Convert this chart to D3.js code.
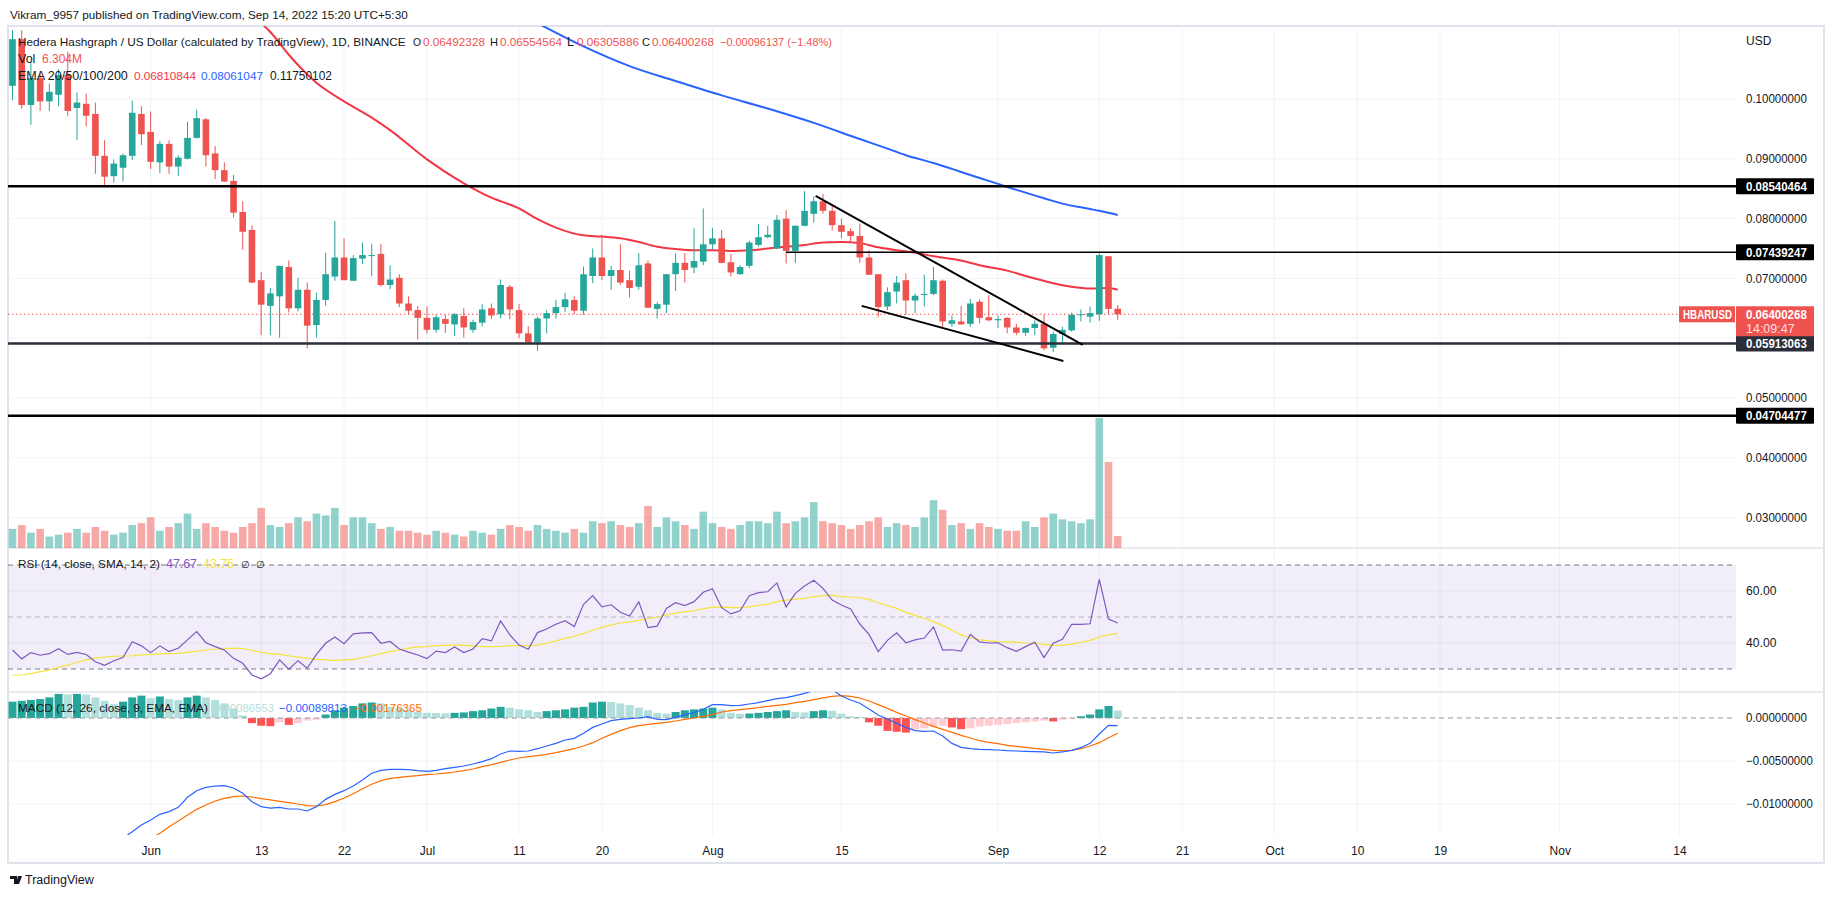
<!DOCTYPE html>
<html><head><meta charset="utf-8">
<script src="https://cdn.jsdelivr.net/npm/d3@7"></script>
<style>
html,body{margin:0;padding:0;background:#fff;}
svg{display:block;font-family:"Liberation Sans",Arial,sans-serif;}
</style></head><body>
<svg id="c" width="1834" height="899"></svg>
<script>
// ---------------- DATA ----------------
const startDate = "2022-05-17"; // first daily candle
const opens = [0.1022,0.1100,0.0990,0.1035,0.0996,0.1007,0.1040,0.0985,0.0992,0.0975,
0.0905,0.0871,0.0885,0.0905,0.0975,0.0945,0.0894,0.0925,0.0887,0.0900,
0.0935,0.0966,0.0909,0.0881,0.0863,0.0811,0.0781,0.0697,0.0654,0.0670,
0.0719,0.0650,0.0681,0.0622,0.0664,0.0703,0.0735,0.0696,0.0733,0.0738,
0.0741,0.0689,0.0701,0.0658,0.0647,0.0634,0.0614,0.0632,0.0623,0.0637,
0.0614,0.0626,0.0650,0.0640,0.0686,0.0647,0.0608,0.0593,0.0633,0.0642,
0.0652,0.0664,0.0646,0.0704,0.0735,0.0704,0.0714,0.0697,0.0686,0.0725,
0.0649,0.0656,0.0707,0.0726,0.0718,0.0728,0.0757,0.0767,0.0727,0.0707,
0.0721,0.0756,0.0769,0.0750,0.0800,0.0746,0.0788,0.0808,0.0829,0.0813,
0.0789,0.0779,0.0771,0.0735,0.0707,0.0653,0.0678,0.0697,0.0663,0.0673,
0.0674,0.0696,0.0624,0.0628,0.0624,0.0661,0.0635,0.0630,0.0634,0.0618,
0.0609,0.0617,0.0624,0.0584,0.0607,0.0613,0.0639,0.0636,0.0640,0.0737,
0.06492328];
const highs = [0.1115,0.1115,0.1060,0.1046,0.1026,0.1050,0.1079,0.1011,0.1009,0.0994,
0.0931,0.0899,0.0909,0.0997,0.0988,0.0979,0.0930,0.0931,0.0906,0.0962,
0.0982,0.0968,0.0921,0.0894,0.0873,0.0829,0.0789,0.0711,0.0684,0.0721,
0.0730,0.0701,0.0693,0.0676,0.0743,0.0796,0.0767,0.0739,0.0760,0.0758,
0.0758,0.0722,0.0707,0.0670,0.0654,0.0653,0.0639,0.0639,0.0642,0.0650,
0.0631,0.0657,0.0658,0.0698,0.0689,0.0657,0.0620,0.0636,0.0647,0.0664,
0.0676,0.0670,0.0720,0.0750,0.0773,0.0721,0.0757,0.0713,0.0742,0.0730,
0.0661,0.0707,0.0742,0.0742,0.0784,0.0817,0.0784,0.0781,0.0741,0.0722,
0.0763,0.0791,0.0788,0.0806,0.0814,0.0789,0.0846,0.0837,0.0841,0.0824,
0.0800,0.0784,0.0792,0.0747,0.0707,0.0685,0.0704,0.0709,0.0675,0.0706,
0.0719,0.0698,0.0638,0.0654,0.0666,0.0665,0.0672,0.0638,0.0635,0.0624,
0.0618,0.0630,0.0639,0.0611,0.0619,0.0643,0.0648,0.0653,0.0745,0.0737,
0.06554564];
const lows = [0.0998,0.0984,0.0957,0.0980,0.0980,0.0988,0.0972,0.0931,0.0954,0.0875,
0.0855,0.0860,0.0862,0.0898,0.0923,0.0883,0.0876,0.0875,0.0871,0.0899,
0.0934,0.0887,0.0866,0.0861,0.0802,0.0748,0.0692,0.0605,0.0605,0.0601,
0.0643,0.0645,0.0583,0.0601,0.0654,0.0696,0.0697,0.0696,0.0724,0.0704,
0.0686,0.0682,0.0652,0.0640,0.0598,0.0608,0.0609,0.0609,0.0604,0.0601,
0.0609,0.0620,0.0632,0.0633,0.0632,0.0600,0.0593,0.0579,0.0608,0.0633,
0.0644,0.0640,0.0639,0.0692,0.0697,0.0681,0.0689,0.0668,0.0681,0.0650,
0.0633,0.0642,0.0679,0.0693,0.0709,0.0722,0.0748,0.0725,0.0703,0.0706,
0.0717,0.0753,0.0767,0.0749,0.0725,0.0726,0.0787,0.0793,0.0808,0.0780,
0.0767,0.0760,0.0726,0.0706,0.0635,0.0647,0.0658,0.0639,0.0642,0.0653,
0.0672,0.0619,0.0619,0.0623,0.0619,0.0625,0.0628,0.0617,0.0608,0.0605,
0.0604,0.0605,0.0580,0.0577,0.0593,0.0611,0.0628,0.0626,0.0629,0.0640,
0.06305886];
const closes = [0.1100,0.0990,0.1035,0.0996,0.1012,0.1040,0.0980,0.0994,0.0972,0.0905,
0.0870,0.0892,0.0906,0.0977,0.0941,0.0895,0.0925,0.0887,0.0902,0.0935,
0.0968,0.0906,0.0881,0.0862,0.0810,0.0778,0.0693,0.0656,0.0675,0.0721,
0.0650,0.0681,0.0621,0.0664,0.0707,0.0735,0.0697,0.0734,0.0739,0.0739,
0.0689,0.0698,0.0658,0.0646,0.0634,0.0614,0.0635,0.0624,0.0640,0.0618,
0.0627,0.0648,0.0638,0.0689,0.0648,0.0608,0.0593,0.0633,0.0642,0.0652,
0.0665,0.0646,0.0707,0.0735,0.0704,0.0714,0.0693,0.0684,0.0722,0.0651,
0.0657,0.0707,0.0726,0.0714,0.0729,0.0757,0.0767,0.0726,0.0710,0.0719,
0.0760,0.0769,0.0773,0.0798,0.0746,0.0788,0.0813,0.0829,0.0813,0.0789,
0.0778,0.0771,0.0735,0.0706,0.0652,0.0677,0.0693,0.0663,0.0671,0.0674,
0.0697,0.0628,0.0630,0.0623,0.0658,0.0634,0.0630,0.0632,0.0618,0.0609,
0.0617,0.0624,0.0583,0.0607,0.0614,0.0639,0.0640,0.0642,0.0739,0.0649,
0.06400268];
const volumesM = [10,12,8,10,6,7,8,10,8,11,
9,7,8,12,13,16,9,11,13,18,
10,13,11,9,8,11,13,21,12,11,
13,16,14,18,17,21,12,16,16,13,
10,11,9,9,8,7,9,8,7,6,
9,8,7,10,12,11,9,12,10,9,
8,10,8,14,13,14,12,11,13,22,
11,16,14,12,10,19,13,11,10,12,
14,14,13,19,13,14,16,24,14,13,
12,10,12,14,16,11,13,12,11,16,
25,20,12,13,10,13,11,10,9,9,
14,11,16,18,15,14,13,15,68,45,
6.304];
// EMA lines: [candle index, value]
const emaRed = [[26,0.1140],[28,0.1112],[30,0.1074],[33,0.1027],[36,0.0996],[39,0.0969],[41,0.0948],[45,0.0899],[49,0.0859],[52,0.0835],[55,0.0817],[57,0.0799],[59,0.0785],[62,0.0772],[64,0.0770],[66,0.0767],[68,0.0761],[70,0.0753],[72,0.0749],[74,0.0747],[76,0.0747],[78,0.0746],[80,0.0747],[82,0.0750],[84,0.0753],[86,0.0756],[88,0.0760],[90,0.0761],[92,0.0759],[94,0.0752],[96,0.0747],[98,0.0743],[100,0.0737],[103,0.0730],[105,0.0722],[108,0.0713],[110,0.0704],[113,0.0692],[115,0.0686],[117,0.0683],[119,0.0684],[120,0.06810844]];
const emaBlue = [[56,0.1135],[62,0.1088],[67,0.1055],[72,0.1030],[77,0.1006],[82,0.0984],[87,0.0960],[92,0.0933],[95,0.0917],[97,0.0906],[100,0.0893],[103,0.0878],[105,0.0868],[107,0.0858],[109,0.0848],[112,0.0834],[114,0.0825],[117,0.0816],[118,0.0813],[120,0.08061047]];
const rsi = [37.3,33.9,36.3,35.3,35.9,37.8,35.6,36.4,35.6,32.8,
31.4,33.2,34.4,40.5,38.9,36.3,38.9,36.7,38.0,41.2,
44.4,40.1,38.6,37.3,34.1,32.2,27.7,26.2,28.2,33.5,
29.9,33.2,30.3,35.6,39.9,42.3,39.7,43.5,43.9,44.0,
39.9,40.6,37.7,36.5,35.4,34.0,36.9,36.3,38.5,36.3,
37.7,41.7,40.8,48.5,43.1,39.2,37.6,44.0,45.4,47.2,
48.6,46.3,54.9,58.2,53.9,54.7,51.8,50.4,55.8,45.9,
46.5,53.3,55.5,54.4,55.9,59.5,60.9,53.6,51.2,52.4,
58.2,59.4,59.7,63.1,53.9,59.1,61.9,64.1,61.0,56.5,
54.6,53.1,47.3,43.3,36.7,41.0,43.9,40.1,41.2,41.9,
46.2,37.3,37.4,36.9,43.3,40.4,40.0,40.1,38.2,36.8,
38.6,40.3,34.4,39.9,41.4,47.2,47.2,47.4,64.5,49.2,
47.67];
const rsiMa = [27.6,27.7,28.2,29.0,29.6,30.6,31.5,32.6,33.5,34.2,
34.6,34.9,35.0,35.1,35.4,35.6,35.8,35.9,36.0,36.4,
36.9,37.3,37.6,37.8,38.0,37.8,37.2,36.4,35.9,35.6,
35.1,34.6,34.2,33.7,33.5,33.3,33.5,33.7,34.4,35.1,
35.9,36.7,37.3,38.0,38.4,38.6,39.0,39.2,39.2,39.1,
38.9,38.6,38.6,38.7,39.0,39.0,39.0,39.2,39.9,40.8,
41.8,42.6,43.6,44.9,46.0,46.9,47.7,48.1,48.7,49.4,
50.0,50.8,51.5,52.1,52.4,53.2,53.7,53.9,53.6,53.6,
53.9,54.5,54.9,55.9,56.5,56.9,57.2,57.8,58.2,58.3,
57.8,57.7,57.4,56.8,55.5,54.4,53.3,51.8,50.6,49.5,
48.2,46.7,44.9,43.1,42.1,41.2,40.8,40.5,40.4,40.3,
40.0,39.8,39.5,39.2,39.1,39.6,40.3,41.0,42.3,43.1,
43.75];
const macdLine = [null,null,null,null,null,null,null,null,null,null,
null,null,-0.0140,-0.01322,-0.01244,-0.01186,-0.01120,-0.01089,-0.01039,-0.00922,
-0.00845,-0.00806,-0.00791,-0.00787,-0.00814,-0.00876,-0.00973,-0.01031,-0.01047,-0.01039,
-0.01058,-0.01058,-0.01081,-0.01031,-0.00946,-0.00888,-0.00845,-0.00791,-0.00721,-0.00643,
-0.00609,-0.00597,-0.00597,-0.00601,-0.00612,-0.00620,-0.00609,-0.00589,-0.00574,-0.00558,
-0.00535,-0.00508,-0.00473,-0.00419,-0.00384,-0.00388,-0.00384,-0.00357,-0.00326,-0.00295,
-0.00256,-0.00237,-0.00178,-0.00109,-0.00070,-0.00031,-0.00016,-0.00008,0.00000,0.00016,
-0.00016,-0.00019,0.00008,0.00039,0.00062,0.00101,0.00155,0.00155,0.00143,0.00147,
0.00163,0.00178,0.00202,0.00225,0.00236,0.00260,0.00287,0.00318,0.00340,0.00330,
0.00256,0.00209,0.00171,0.00105,0.00035,-0.00012,-0.00062,-0.00109,-0.00147,-0.00155,
-0.00151,-0.00209,-0.00295,-0.00341,-0.00357,-0.00364,-0.00368,-0.00372,-0.00380,-0.00384,
-0.00388,-0.00391,-0.00395,-0.00407,-0.00395,-0.00376,-0.00345,-0.00295,-0.00186,-0.00085,
-0.00089813];
const signalLine = [null,null,null,null,null,null,null,null,null,null,
null,null,null,null,null,-0.0140,-0.01341,-0.01264,-0.01198,-0.01128,
-0.01062,-0.01012,-0.00965,-0.00934,-0.00915,-0.00907,-0.00919,-0.00938,-0.00953,-0.00969,
-0.00984,-0.01000,-0.01019,-0.01023,-0.01008,-0.00973,-0.00930,-0.00880,-0.00822,-0.00771,
-0.00729,-0.00702,-0.00690,-0.00678,-0.00671,-0.00659,-0.00651,-0.00640,-0.00628,-0.00612,
-0.00593,-0.00566,-0.00543,-0.00516,-0.00488,-0.00465,-0.00450,-0.00438,-0.00422,-0.00403,
-0.00380,-0.00357,-0.00326,-0.00287,-0.00236,-0.00190,-0.00147,-0.00112,-0.00089,-0.00074,
-0.00062,-0.00050,-0.00035,-0.00016,0.00000,0.00019,0.00039,0.00070,0.00085,0.00097,
0.00109,0.00120,0.00136,0.00147,0.00159,0.00178,0.00194,0.00213,0.00233,0.00252,
0.00260,0.00252,0.00233,0.00198,0.00155,0.00112,0.00066,0.00023,-0.00019,-0.00058,
-0.00097,-0.00132,-0.00167,-0.00202,-0.00233,-0.00264,-0.00283,-0.00298,-0.00318,-0.00329,
-0.00341,-0.00353,-0.00364,-0.00376,-0.00380,-0.00376,-0.00357,-0.00326,-0.00287,-0.00229,
-0.00176365];
const macdHist = [0.0019,0.0020,0.0021,0.0022,0.0024,0.0028,0.00275,0.0028,0.00272,0.0024,
0.0020,0.0016,0.0019,0.0024,0.0026,0.0023,0.0025,0.0022,0.0021,0.0024,
0.0026,0.0024,0.0021,0.0017,0.0011,0.0003,
-0.0006,-0.0009,-0.00095,-0.0005,-0.0008,-0.0006,-0.0003,-0.0002,
0.0004,0.0009,0.0012,0.0014,0.0017,0.0018,
0.0017,0.0013,0.0011,0.0009,0.0007,0.0006,0.00058,0.00055,
0.0006,0.00065,0.0008,0.0009,0.0011,0.0013,
0.0012,0.0010,0.0009,0.0007,
0.0008,0.0009,0.0010,0.0012,0.0013,0.0018,0.0019,
0.00185,0.0017,0.0015,0.0012,0.0009,0.0006,0.0005,
0.0007,0.0009,0.0010,0.0011,0.0012,
0.0010,0.0006,0.0005,
0.00052,0.0006,0.0007,0.0008,0.0009,
0.0007,0.00065,
0.0008,0.0009,
0.00085,0.0005,0.0002,0.0001,
-0.0005,-0.0009,-0.0015,-0.0016,-0.0017,
-0.0013,-0.0012,-0.0010,-0.0009,
-0.0011,-0.0013,
-0.0012,-0.0010,-0.0009,-0.0008,-0.0007,-0.0006,-0.0005,-0.0004,-0.0003,
-0.0004,
-0.0002,-0.0001,
0.0002,0.0004,0.0010,0.0014,
0.00086553];
const levelValues = [0.08540464, 0.07439247, 0.05913063, 0.04704477];
const levelStartIdx = [null, 84, null, null];
const trendUpper = [[87.2, 0.0838],[116.2, 0.0589]];
const trendLower = [[92.2, 0.0654],[114.1, 0.0562]];
const lastPrice = 0.06400268;
const priceTicks = [0.10,0.09,0.08,0.07,0.06,0.05,0.04,0.03];
const priceTickLabelsShown = [0.10,0.09,0.08,0.07,0.05,0.04,0.03];
const rsiTicks = [60,40];
const macdTicks = [0,-0.005,-0.01];
const timeTickDates = ["2022-06-01","2022-06-13","2022-06-22","2022-07-01","2022-07-11","2022-07-20","2022-08-01","2022-08-15","2022-09-01","2022-09-12","2022-09-21","2022-10-01","2022-10-10","2022-10-19","2022-11-01","2022-11-14"];
const timeTickLabels = ["Jun","13","22","Jul","11","20","Aug","15","Sep","12","21","Oct","10","19","Nov","14"];

// ---------------- LAYOUT ----------------
const L = 8, R = 1736, AX = 1824;
const P = {top:26, bot:548}, RS = {top:548, bot:692}, MC = {top:692, bot:835};
const svg = d3.select("#c");
const parse = d3.utcParse("%Y-%m-%d");
const d0 = parse(startDate);
const dates = opens.map((_, i) => d3.utcDay.offset(d0, i));
const x = d3.scaleUtc().domain([d0, d3.utcDay.offset(d0, 181)]).range([12.5, 12.5 + 181*9.21]);
const xi = i => x(dates[0]) + (x(d3.utcDay.offset(d0,1)) - x(d0)) * i;
const y = d3.scaleLinear().domain([0.10, 0.03]).range([99, 517.6]);
const yv = d3.scaleLinear().domain([0, 68]).range([P.bot, 418]);
const yr = d3.scaleLinear().domain([60, 40]).range([591, 643]);
const ym = d3.scaleLinear().domain([0, -0.01]).range([718, 804]);

const defs = svg.append("defs");
function clip(id, y0, y1){ defs.append("clipPath").attr("id", id).append("rect").attr("x", L).attr("y", y0).attr("width", R-L).attr("height", y1-y0); }
clip("cp", P.top, P.bot); clip("cr", RS.top, RS.bot); clip("cm", MC.top, MC.bot);

svg.append("rect").attr("x", L).attr("y", P.top).attr("width", AX-L).attr("height", 863-P.top)
  .attr("fill", "none").attr("stroke", "#e0e3eb").attr("stroke-width", 2);

const gridCol = "#f0f3fa";
const tickDates = timeTickDates.map(parse);
svg.append("g").selectAll("line").data(tickDates).join("line")
  .attr("x1", d => x(d)).attr("x2", d => x(d)).attr("y1", P.top).attr("y2", MC.bot)
  .attr("stroke", gridCol).attr("stroke-width", 1);
svg.append("g").selectAll("line").data(priceTicks).join("line")
  .attr("x1", L).attr("x2", R).attr("y1", d => y(d)).attr("y2", d => y(d))
  .attr("stroke", gridCol);
[RS.top, MC.top].forEach(v => svg.append("line").attr("x1", L).attr("x2", AX).attr("y1", v).attr("y2", v).attr("stroke", "#e0e3eb").attr("stroke-width", 1.5));

// ---------------- PRICE PANE ----------------
const gp = svg.append("g").attr("clip-path", "url(#cp)");
const up = i => closes[i] >= opens[i];
gp.append("g").selectAll("rect").data(volumesM).join("rect")
  .attr("x", (d,i) => xi(i) - 3.8).attr("width", 7.6)
  .attr("y", d => yv(d)).attr("height", d => yv(0) - yv(d))
  .attr("fill", (d,i) => up(i) ? "rgba(38,166,154,0.5)" : "rgba(239,83,80,0.5)");

const emaLine = d3.line().x(d => xi(d[0])).y(d => y(d[1])).curve(d3.curveMonotoneX);
gp.append("path").attr("d", emaLine(emaRed)).attr("fill","none").attr("stroke","#f23645").attr("stroke-width",2);
gp.append("path").attr("d", emaLine(emaBlue)).attr("fill","none").attr("stroke","#2962ff").attr("stroke-width",2);

gp.append("line").attr("x1", L).attr("x2", R).attr("y1", y(lastPrice)).attr("y2", y(lastPrice))
  .attr("stroke", "#ef5350").attr("stroke-width", 1).attr("stroke-dasharray", "1.5,2.5");

const cg = gp.append("g");
opens.forEach((o, i) => {
  const col = up(i) ? "#26a69a" : "#ef5350";
  const cx = xi(i);
  cg.append("line").attr("x1", cx).attr("x2", cx).attr("y1", y(highs[i])).attr("y2", y(lows[i])).attr("stroke", col).attr("stroke-width", 1);
  const t = y(Math.max(o, closes[i])), b = y(Math.min(o, closes[i]));
  cg.append("rect").attr("x", cx - 3.3).attr("width", 6.6).attr("y", t).attr("height", Math.max(1, b - t)).attr("fill", col);
});

const levelStyle = [{w:2.5,c:"#000"},{w:1.5,c:"#000"},{w:2.5,c:"#2a2e39"},{w:2.5,c:"#000"}];
levelValues.forEach((v, k) => {
  gp.append("line").attr("x1", levelStartIdx[k] == null ? L : xi(levelStartIdx[k])).attr("x2", R)
    .attr("y1", y(v)).attr("y2", y(v)).attr("stroke", levelStyle[k].c).attr("stroke-width", levelStyle[k].w);
});
[trendUpper, trendLower].forEach(tl => {
  gp.append("line").attr("x1", xi(tl[0][0])).attr("y1", y(tl[0][1])).attr("x2", xi(tl[1][0])).attr("y2", y(tl[1][1]))
    .attr("stroke", "#000").attr("stroke-width", 2);
});

const CW = 6.08;
function styleAxis(g, fit){
  g.select(".domain").remove();
  g.selectAll("text").attr("font-size", 12).attr("fill", "#131722");
  if (fit) g.selectAll("text").each(function(){ const n = this.textContent.length; d3.select(this).attr("textLength", n*CW).attr("lengthAdjust","spacingAndGlyphs"); });
}
const pax = svg.append("g").attr("transform", `translate(${R},0)`)
  .call(d3.axisRight(y).tickValues(priceTickLabelsShown).tickFormat(d3.format(".8f")).tickSize(0).tickPadding(10));
styleAxis(pax, true);
svg.append("text").attr("x", R + 10).attr("y", 45).attr("font-size", 12).attr("fill", "#131722").text("USD");

function boxText(xx, yy, str, bold, op){
  return svg.append("text").attr("x", xx).attr("y", yy).attr("font-size", 12).attr("font-weight", bold ? "bold" : null)
    .attr("fill", "#fff").attr("fill-opacity", op || 1).attr("textLength", str.length*CW).attr("lengthAdjust","spacingAndGlyphs").text(str);
}
const boxCol = ["#000","#000","#2a2e39","#000"];
levelValues.forEach((v, k) => {
  svg.append("rect").attr("x", R).attr("y", y(v) - 8).attr("width", 78).attr("height", 16).attr("rx", 1).attr("fill", boxCol[k]);
  boxText(R + 10, y(v) + 4.5, d3.format(".8f")(v), true);
});
svg.append("rect").attr("x", R).attr("y", y(lastPrice) - 8).attr("width", 78).attr("height", 30).attr("fill", "#ef5350");
boxText(R + 10, y(lastPrice) + 4.5, d3.format(".8f")(lastPrice), true);
boxText(R + 10, y(lastPrice) + 18.5, "14:09:47", false, 0.85);
svg.append("rect").attr("x", R - 57).attr("y", y(lastPrice) - 8).attr("width", 56).attr("height", 16).attr("fill", "#ef5350");
svg.append("text").attr("x", R - 53).attr("y", y(lastPrice) + 4.5).attr("font-size", 12).attr("font-weight", "bold").attr("fill", "#fff")
  .attr("textLength", 49).attr("lengthAdjust","spacingAndGlyphs").text("HBARUSD");

// ---------------- RSI PANE ----------------
const gr = svg.append("g").attr("clip-path", "url(#cr)");
gr.append("rect").attr("x", L).attr("width", R - L).attr("y", yr(70)).attr("height", yr(30) - yr(70)).attr("fill", "rgba(126,87,194,0.1)");
rsiTicks.forEach(v => gr.append("line").attr("x1", L).attr("x2", R).attr("y1", yr(v)).attr("y2", yr(v)).attr("stroke", "rgba(120,123,134,0.12)"));
[[70,"#787b86","5,4"],[50,"rgba(120,123,134,0.5)","5,4"],[30,"#787b86","5,4"]].forEach(b =>
  gr.append("line").attr("x1", L).attr("x2", R).attr("y1", yr(b[0])).attr("y2", yr(b[0])).attr("stroke", b[1]).attr("stroke-dasharray", b[2]));
const rl = d3.line().x((d,i) => xi(i)).y(d => yr(d));
gr.append("path").attr("d", rl(rsiMa)).attr("fill","none").attr("stroke","#f5e33b").attr("stroke-width",1.2);
gr.append("path").attr("d", rl(rsi)).attr("fill","none").attr("stroke","#7e57c2").attr("stroke-width",1.2);
const rax = svg.append("g").attr("transform", `translate(${R},0)`)
  .call(d3.axisRight(yr).tickValues(rsiTicks).tickFormat(d3.format(".2f")).tickSize(0).tickPadding(10));
styleAxis(rax, true);

// ---------------- MACD PANE ----------------
const gm = svg.append("g").attr("clip-path", "url(#cm)");
macdTicks.slice(1).forEach(v => gm.append("line").attr("x1", L).attr("x2", R).attr("y1", ym(v)).attr("y2", ym(v)).attr("stroke", gridCol));
gm.append("g").selectAll("rect").data(macdHist).join("rect")
  .attr("x", (d,i) => xi(i) - 4).attr("width", 8)
  .attr("y", d => d >= 0 ? ym(d) : ym(0)).attr("height", d => Math.abs(ym(d) - ym(0)))
  .attr("fill", (d,i) => {
    const prev = i > 0 ? macdHist[i-1] : d - 1;
    if (d >= 0) return d >= prev ? "#26a69a" : "#b2dfdb";
    return d < prev ? "#ff5252" : "#ffcdd2";
  });
gm.append("line").attr("x1", L).attr("x2", R).attr("y1", ym(0)).attr("y2", ym(0)).attr("stroke", "#9598a1").attr("stroke-dasharray", "5,4");
const ml = d3.line().defined(d => d != null).x((d,i) => xi(i)).y(d => ym(d));
gm.append("path").attr("d", ml(signalLine)).attr("fill","none").attr("stroke","#ff6d00").attr("stroke-width",1.2);
gm.append("path").attr("d", ml(macdLine)).attr("fill","none").attr("stroke","#2962ff").attr("stroke-width",1.2);
const mxa = svg.append("g").attr("transform", `translate(${R},0)`)
  .call(d3.axisRight(ym).tickValues(macdTicks).tickFormat(d3.format(".8f")).tickSize(0).tickPadding(10));
styleAxis(mxa, true);

// ---------------- TIME AXIS ----------------
const tax = svg.append("g").attr("transform", `translate(0,${MC.bot})`)
  .call(d3.axisBottom(x).tickValues(tickDates).tickFormat((d,i) => timeTickLabels[i]).tickSize(0).tickPadding(11));
styleAxis(tax, false);

// ---------------- LEGENDS / HEADER ----------------
const F = 12.5;
// shrink the font so the natural width fits len (no glyph squeezing)
function part(xx, yy, str, col, len){
  const t = svg.append("text").attr("x", xx).attr("y", yy).attr("font-size", F).attr("fill", col).text(str);
  const w = t.node().getComputedTextLength();
  if (w > len) t.attr("font-size", (F * len / w).toFixed(2));
}
const ink = "#131722", red = "#ef5350";
part(10, 19, "Vikram_9957 published on TradingView.com, Sep 14, 2022 15:20 UTC+5:30", ink, 398);
part(18, 46, "Hedera Hashgraph / US Dollar (calculated by TradingView), 1D, BINANCE", ink, 388);
[["O",413,"0.06492328"],["H",490,"0.06554564"],["L",567,"0.06305886"],["C",642,"0.06400268"]].forEach(g => {
  part(g[1], 46, g[0], ink, 8);
  part(g[1] + 10, 46, g[2], red, 62);
});
part(720, 46, "−0.00096137 (−1.48%)", red, 112);
part(18, 63, "Vol", ink, 20);
part(42, 63, "6.304M", red, 40);
part(18, 80, "EMA 20/50/100/200", ink, 110);
part(134, 80, "0.06810844", "#f23645", 62);
part(201, 80, "0.08061047", "#2962ff", 62);
part(270, 80, "0.11750102", ink, 62);
part(18, 568, "RSI (14, close, SMA, 14, 2)", ink, 142);
part(166, 568, "47.67", "#7e57c2", 31);
part(203, 568, "43.75", "#f5e33b", 31);
part(241, 568, "∅", ink, 9);
part(256, 568, "∅", ink, 9);
part(18, 712, "MACD (12, 26, close, 9, EMA, EMA)", ink, 190);
part(214, 712, "0.00086553", "#b2dfdb", 60);
part(279, 712, "−0.00089813", "#2962ff", 68);
part(354, 712, "−0.00176365", "#ff6d00", 68);

const lg = svg.append("g").attr("transform", "translate(10,874)");
lg.append("path").attr("d", "M0,2 h7 v8 h-3 v-5 h-4 z").attr("fill", ink);
lg.append("path").attr("d", "M8,2 h4 l-3,8 h-3 z").attr("fill", ink);
lg.append("text").attr("x", 15).attr("y", 10).attr("font-size", 12.5).attr("fill", ink).text("TradingView");
</script>
</body></html>
